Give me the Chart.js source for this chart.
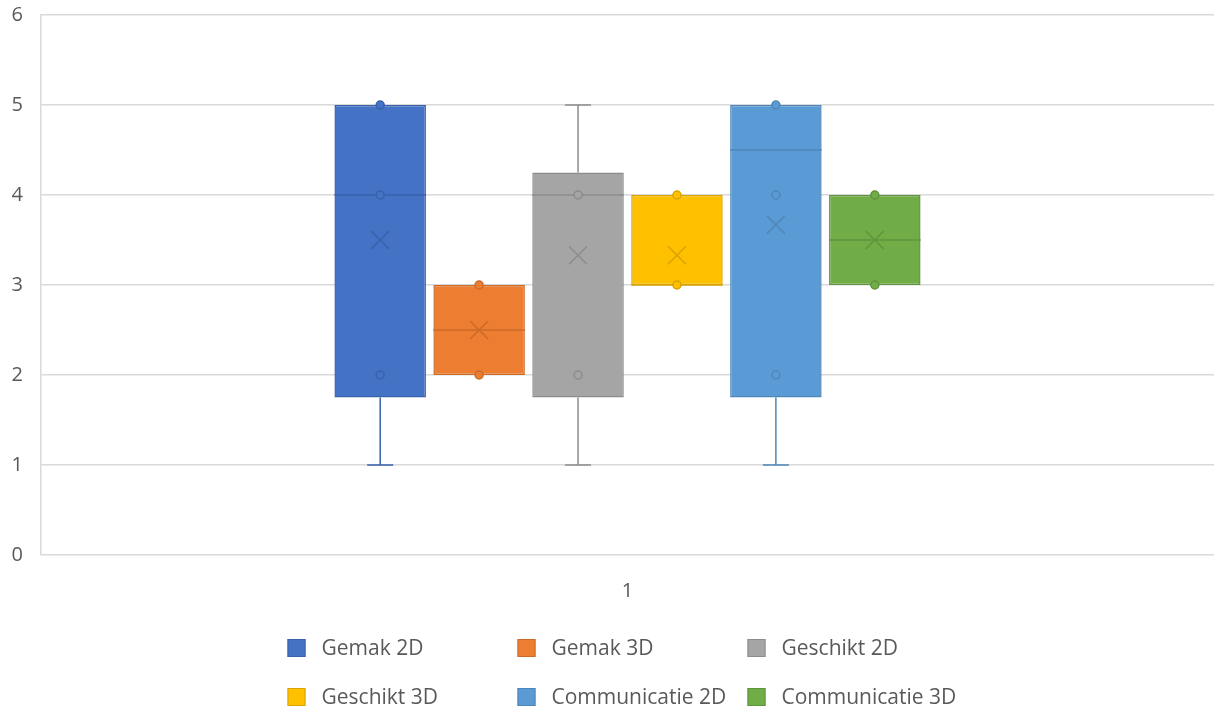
<!DOCTYPE html>
<html>
<head>
<meta charset="utf-8">
<script src="https://cdn.jsdelivr.net/npm/chart.js@4.4.1/dist/chart.umd.min.js"></script>
<style>
  html, body { margin: 0; padding: 0; background: #ffffff; }
  #wrap { width: 1214px; height: 710px; position: relative; }
</style>
</head>
<body>
<div id="wrap"><canvas id="chart"></canvas></div>
<script>
// Five-number summaries per rating group (single category "1")
const categories = ['1'];
const seriesNames = ['Gemak 2D', 'Gemak 3D', 'Geschikt 2D', 'Geschikt 3D', 'Communicatie 2D', 'Communicatie 3D'];
const minValues = [1, 2, 1, 3, 1, 3];
const q1Values = [1.75, 2, 1.75, 3, 1.75, 3];
const medianValues = [4, 2.5, 4, 3, 4.5, 3.5];
const q3Values = [5, 3, 4.25, 4, 5, 4];
const maxValues = [5, 3, 5, 4, 5, 4];
const meanValues = [3.5, 2.5, 3.33, 3.33, 3.67, 3.5];
const innerPoints = [[2, 4, 5], [2, 3], [2, 4], [3, 4], [2, 4, 5], [3, 4]];
const yTickValues = [0, 1, 2, 3, 4, 5, 6];

// Styling
const fillColors = ['#4472C4', '#ED7D31', '#A5A5A5', '#FFC000', '#5B9BD5', '#70AD47'];
const lineColors = ['#3A62AB', '#CC6A28', '#8C8C8C', '#D9A300', '#4E86B8', '#5F943C'];
const FONT = '"Open Sans", "Segoe UI", sans-serif';
const TEXT_COLOR = '#595959';
const GRID_COLOR = '#d9d9d9';

// Draws medians, whiskers, means and inner points on top of the floating bars
const boxDetails = {
  id: 'boxDetails',
  afterDatasetsDraw(chart) {
    const ctx = chart.ctx;
    const y = chart.scales.y;
    ctx.save();
    chart.data.datasets.forEach((ds, i) => {
      const bar = chart.getDatasetMeta(i).data[0];
      if (!bar) return;
      const cx = bar.x;
      const half = bar.width / 2;
      const col = lineColors[i];
      const capHalf = 13;
      ctx.strokeStyle = col;
      ctx.lineWidth = 1.5;

      // whiskers
      const yQ3 = y.getPixelForValue(q3Values[i]);
      const yQ1 = y.getPixelForValue(q1Values[i]);
      if (maxValues[i] > q3Values[i]) {
        const yMax = y.getPixelForValue(maxValues[i]);
        ctx.beginPath();
        ctx.moveTo(cx, yQ3); ctx.lineTo(cx, yMax);
        ctx.moveTo(cx - capHalf, yMax); ctx.lineTo(cx + capHalf, yMax);
        ctx.stroke();
      }
      if (minValues[i] < q1Values[i]) {
        const yMin = y.getPixelForValue(minValues[i]);
        ctx.beginPath();
        ctx.moveTo(cx, yQ1); ctx.lineTo(cx, yMin);
        ctx.moveTo(cx - capHalf, yMin); ctx.lineTo(cx + capHalf, yMin);
        ctx.stroke();
      }

      // median
      const yMed = y.getPixelForValue(medianValues[i]);
      ctx.beginPath();
      ctx.moveTo(cx - half, yMed); ctx.lineTo(cx + half, yMed);
      ctx.stroke();

      // mean marker (x)
      const yMean = y.getPixelForValue(meanValues[i]);
      const m = 9;
      ctx.beginPath();
      ctx.moveTo(cx - m, yMean - m); ctx.lineTo(cx + m, yMean + m);
      ctx.moveTo(cx + m, yMean - m); ctx.lineTo(cx - m, yMean + m);
      ctx.stroke();

      // inner points
      innerPoints[i].forEach(v => {
        const py = y.getPixelForValue(v);
        ctx.beginPath();
        ctx.arc(cx, py, 4, 0, Math.PI * 2);
        ctx.fillStyle = fillColors[i];
        ctx.fill();
        ctx.stroke();
      });
    });
    ctx.restore();
  }
};

// Legend laid out as a 3-column grid below the axis
const gridLegend = {
  id: 'gridLegend',
  afterDraw(chart) {
    const ctx = chart.ctx;
    const area = chart.chartArea;
    const colWidth = 230;
    const cols = 3;
    const startX = (area.left + area.right) / 2 - (colWidth * cols) / 2 + 5;
    const rowY = [chart.height - 62, chart.height - 13];
    const box = 18;
    ctx.save();
    ctx.font = '21px ' + FONT;
    ctx.textBaseline = 'middle';
    ctx.textAlign = 'left';
    chart.data.datasets.forEach((ds, i) => {
      const col = i % cols;
      const row = Math.floor(i / cols);
      const x = startX + col * colWidth;
      const yc = rowY[row];
      ctx.fillStyle = ds.backgroundColor;
      ctx.fillRect(x, yc - box / 2, box, box);
      ctx.strokeStyle = ds.borderColor;
      ctx.lineWidth = 1;
      ctx.strokeRect(x + 0.5, yc - box / 2 + 0.5, box - 1, box - 1);
      ctx.fillStyle = TEXT_COLOR;
      ctx.fillText(ds.label, x + 34, yc + 1);
    });
    ctx.restore();
  }
};

const datasets = seriesNames.map((name, i) => ({
  label: name,
  data: [[q1Values[i], q3Values[i]]],
  backgroundColor: fillColors[i],
  borderColor: lineColors[i],
  borderWidth: 1.5,
  borderSkipped: false,
  categoryPercentage: 0.506,
  barPercentage: 0.925
}));

new Chart(document.getElementById('chart'), {
  type: 'bar',
  data: { labels: categories, datasets },
  options: {
    responsive: true,
    maintainAspectRatio: false,
    animation: false,
    layout: { padding: { left: 12, right: -3, top: 15, bottom: 83 } },
    plugins: {
      legend: { display: false },
      tooltip: { enabled: false }
    },
    scales: {
      x: {
        grid: { display: false, drawTicks: false },
        border: { display: false },
        ticks: { color: TEXT_COLOR, font: { family: FONT, size: 20 }, padding: 24 }
      },
      y: {
        min: 0,
        max: 6,
        afterBuildTicks(scale) { scale.ticks = yTickValues.map(v => ({ value: v })); },
        afterFit(scale) {
          scale.width = 29;
          scale.paddingTop = 0;
          scale.paddingBottom = 0;
        },
        grid: { color: GRID_COLOR, lineWidth: 1.5, drawTicks: false },
        border: { display: true, color: GRID_COLOR, width: 1.5 },
        ticks: { color: TEXT_COLOR, font: { family: FONT, size: 20 }, padding: 18 }
      }
    }
  },
  plugins: [boxDetails, gridLegend]
});
</script>
</body>
</html>
